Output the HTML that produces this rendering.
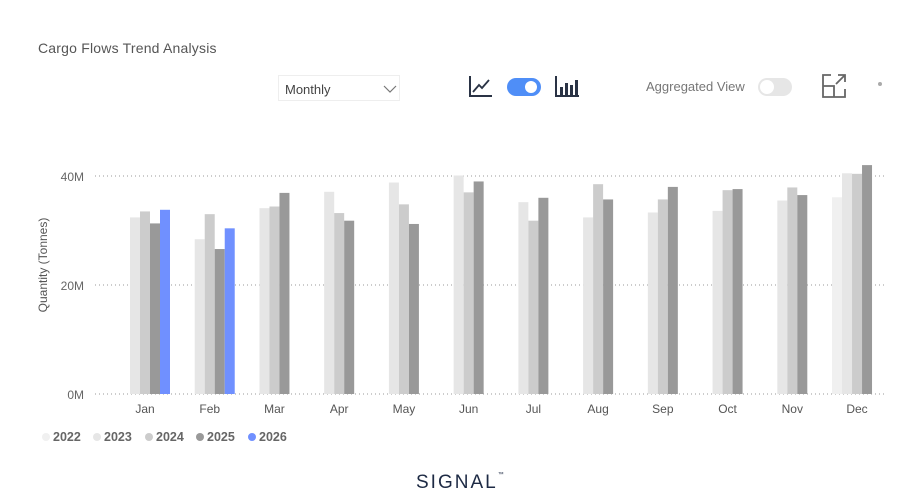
<!DOCTYPE html>
<html><head><meta charset="utf-8"><style>
body{margin:0;width:905px;height:498px;background:#fff;font-family:"Liberation Sans",sans-serif;overflow:hidden;position:relative}
.abs{position:absolute}
</style></head><body>
<div class="abs" style="left:38px;top:40px;font-size:14px;color:#555;letter-spacing:0.2px">Cargo Flows Trend Analysis</div>
<div class="abs" style="left:278px;top:75px;width:122px;height:26px;border:1px solid #eee;box-sizing:border-box;font-size:13px;color:#444;line-height:28px;padding-left:6px">Monthly<svg class="abs" style="left:104px;top:9px" width="14" height="8"><polyline points="1,1 7,7 13,1" fill="none" stroke="#777" stroke-width="1.2"/></svg></div>
<svg class="abs" style="left:468px;top:75px" width="26" height="24"><polyline points="2,1 2,21 24,21" fill="none" stroke="#2a3345" stroke-width="2"/><polyline points="5,17 11,10 14,13 21,5" fill="none" stroke="#2a3345" stroke-width="1.8"/></svg>
<div class="abs" style="left:507px;top:78px;width:34px;height:18px;border-radius:9px;background:#4f8ef7"><div class="abs" style="left:18px;top:3px;width:12px;height:12px;border-radius:6px;background:#fff"></div></div>
<svg class="abs" style="left:554px;top:75px" width="26" height="24"><polyline points="2,1 2,21 25,21" fill="none" stroke="#2a3345" stroke-width="2"/><rect x="6" y="12" width="3" height="8" fill="#2a3345"/><rect x="11" y="8" width="3" height="12" fill="#2a3345"/><rect x="16" y="10" width="3" height="10" fill="#2a3345"/><rect x="21" y="5" width="3" height="15" fill="#2a3345"/></svg>
<div class="abs" style="left:646px;top:79px;font-size:13px;color:#777">Aggregated View</div>
<div class="abs" style="left:758px;top:78px;width:34px;height:18px;border-radius:9px;background:#e6e6e6"><div class="abs" style="left:2px;top:2px;width:14px;height:14px;border-radius:7px;background:#fff"></div></div>
<svg class="abs" style="left:820px;top:72px" width="28" height="28"><path d="M11,3 H3 V25 H25 V17" fill="none" stroke="#666" stroke-width="1.8"/><path d="M3,14 H14 V25" fill="none" stroke="#666" stroke-width="1.8"/><path d="M16,12 L25,3 M18,3 H25 V10" fill="none" stroke="#666" stroke-width="1.8"/></svg>
<div class="abs" style="left:878px;top:82px;width:4px;height:4px;border-radius:2px;background:#aaa"></div>
<svg id="chart" class="abs" style="left:0;top:0" width="905" height="498"></svg>
<div class="abs" style="left:416px;top:472px;font-size:19px;letter-spacing:2px;color:#1d2a44">SIGNAL<span style="font-size:6px;vertical-align:top">™</span></div>
<script>
const months=["Jan","Feb","Mar","Apr","May","Jun","Jul","Aug","Sep","Oct","Nov","Dec"];
const years=["2022","2023","2024","2025","2026"];
const s2022=[null,null,null,null,null,null,null,null,null,null,null,36.1];
const s2023=[32.4,28.4,34.1,37.1,38.8,40.1,35.2,32.4,33.3,33.6,35.5,40.5];
const s2024=[33.5,33.0,34.4,33.2,34.8,37.0,31.8,38.5,35.7,37.4,37.9,40.4];
const s2025=[31.3,26.6,36.9,31.8,31.2,39.0,36.0,35.7,38.0,37.6,36.5,42.0];
const s2026=[33.8,30.4,null,null,null,null,null,null,null,null,null,null];
const yTicks=[0,20,40];
const yTickLabels=["0M","20M","40M"];
const series=[s2022,s2023,s2024,s2025,s2026];
const colors=["#f0f0f0","#e6e6e6","#cccccc","#999999","#7090ff"];
const NS="http://www.w3.org/2000/svg";
const svg=document.getElementById('chart');
const y0=394,pxPer=(394-176)/40;
function yS(v){return y0-v*pxPer;}
function xC(i){return 145+i*64.73;}
function mk(t,a){const e=document.createElementNS(NS,t);for(const k in a)e.setAttribute(k,a[k]);svg.appendChild(e);return e;}
yTicks.forEach((t,i)=>{
 const l=mk('line',{x1:95,x2:885,y1:yS(t),y2:yS(t),stroke:"#999","stroke-dasharray":"1,3","stroke-width":1});
 
 
 const tx=mk('text',{x:84,y:yS(t)+5,"text-anchor":"end","font-size":12,fill:"#666"});
 tx.textContent=yTickLabels[i];
 
 
});
const yt=mk('text',{x:0,y:0,transform:"translate(47,265) rotate(-90)","text-anchor":"middle","font-size":12,fill:"#555"});
yt.textContent="Quantity (Tonnes)";


months.forEach((m,i)=>{
 series.forEach((s,j)=>{
  if(s[i]==null)return;
  const r=mk('rect',{x:xC(i)-25+j*10,y:yS(s[i]),width:10,height:y0-yS(s[i]),fill:colors[j]});
  
  
 });
 const t=mk('text',{x:xC(i),y:413,"text-anchor":"middle","font-size":12,fill:"#555"});
 t.textContent=m;
 
 
});
const lx=[46,97,149,200,252];
years.forEach((yv,j)=>{
 const c=mk('circle',{cx:lx[j],cy:437,r:4,fill:colors[j]});
 
 
 const t=mk('text',{x:lx[j]+7,y:441,"font-size":12.5,fill:"#666","font-weight":"bold"});
 t.textContent=yv;
 
 
});
</script>
</body></html>
